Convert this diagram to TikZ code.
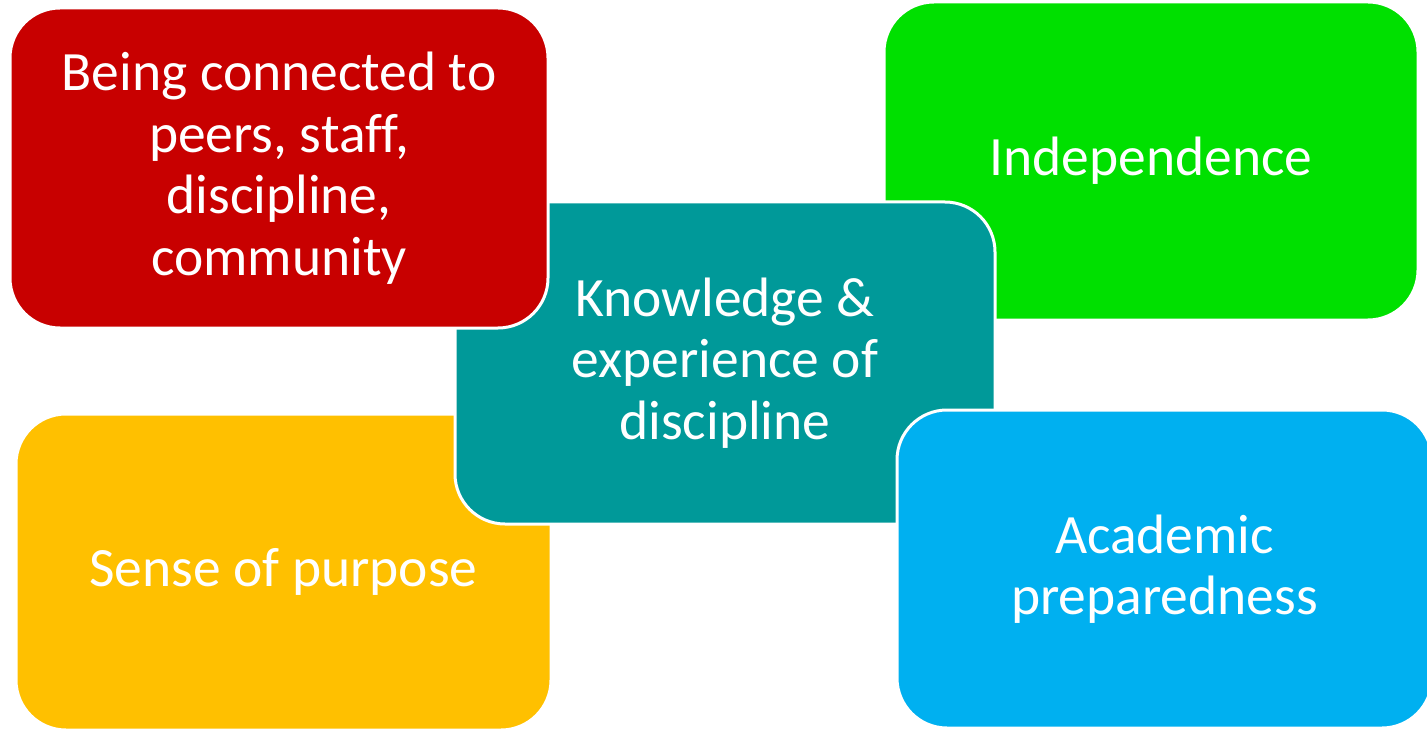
\documentclass[tikz,border=0pt]{standalone}
\usepackage{fontspec}
\setmainfont[Ligatures=NoCommon]{Carlito}
\definecolor{cred}{HTML}{C80000}
\definecolor{cgreen}{HTML}{00E000}
\definecolor{cyellow}{HTML}{FFC000}
\definecolor{cteal}{HTML}{009999}
\definecolor{cblue}{HTML}{00B0F0}
\tikzset{
  card/.style={rectangle, rounded corners=50pt, draw=white, line width=3pt,
    text=white, align=center, inner sep=0pt,
    font=\fontsize{55.5}{61.5}\selectfont}
}
\begin{document}
\begin{tikzpicture}[x=1pt,y=1pt]
\useasboundingbox (0,0) rectangle (1427,-730);
\clip (0,0) rectangle (1427,-730);
\node[card, fill=cgreen, minimum width=534pt, minimum height=318pt] (indep) at (1151,-161) {Independence};
\node[card, fill=cyellow, minimum width=535pt, minimum height=316pt] (purpose) at (283.5,-572) {Sense of purpose};
\node[card, fill=cteal, minimum width=540pt, minimum height=322pt] (know) at (725,-363) {Knowledge \&\\experience of\\discipline};
\node[card, fill=cred, minimum width=538pt, minimum height=320pt] (connect) at (279,-168) {Being connected to\\peers, staff,\\discipline,\\community};
\node[card, fill=cblue, minimum width=535pt, minimum height=318pt] (acad) at (1164.5,-569) {Academic\\preparedness};
\end{tikzpicture}
\end{document}
